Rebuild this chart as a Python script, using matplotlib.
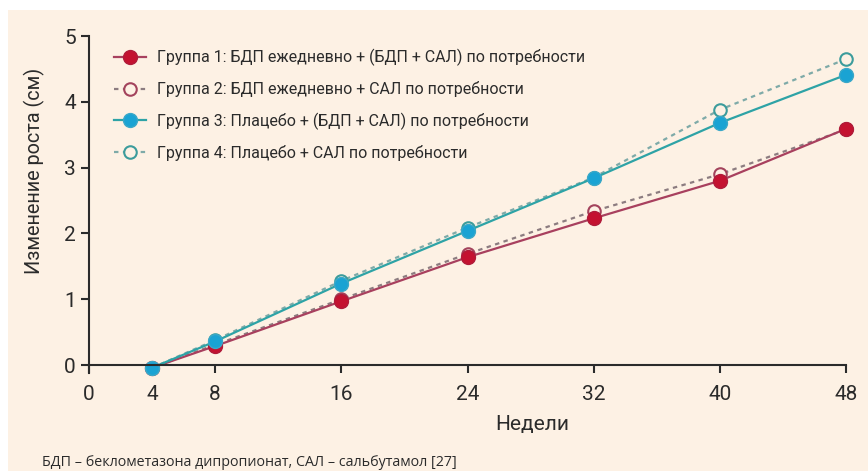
import matplotlib
matplotlib.use("Agg")
import matplotlib.pyplot as plt
from matplotlib.patches import Rectangle

plt.rcParams['font.family'] = ['Roboto', 'DejaVu Sans']

weeks = [4, 8, 16, 24, 32, 40, 48]
group1 = [-0.04, 0.29, 0.97, 1.64, 2.23, 2.80, 3.59]
group2 = [-0.04, 0.31, 1.00, 1.69, 2.34, 2.90, 3.58]
group3 = [-0.04, 0.36, 1.24, 2.04, 2.84, 3.68, 4.41]
group4 = [-0.04, 0.38, 1.28, 2.09, 2.85, 3.88, 4.65]

labels = [
    "Группа 1: БДП ежедневно + (БДП + САЛ) по потребности",
    "Группа 2: БДП ежедневно + САЛ по потребности",
    "Группа 3: Плацебо + (БДП + САЛ) по потребности",
    "Группа 4: Плацебо + САЛ по потребности",
]
xticks = [0, 4, 8, 16, 24, 32, 40, 48]
yticks = [0, 1, 2, 3, 4, 5]

bg = '#fdf1e4'
ink = '#2b2b2b'
fig = plt.figure(figsize=(8.68, 4.71), dpi=100)
fig.patch.set_facecolor('white')
fig.patches.append(Rectangle((8/868, 0), 1, 1 - 10/471, transform=fig.transFigure,
                             facecolor=bg, edgecolor='none', zorder=-10))

ax = fig.add_axes([89/868, 0.208, (846 - 89)/868, 0.7155])
ax.set_facecolor('none')

h2, = ax.plot(weeks, group2, linestyle=(0, (2, 2)), color='#8c7c80', lw=1.6,
              marker='o', ms=9, mfc=bg, mec='#a3435c', mew=1.5, clip_on=False)
h1, = ax.plot(weeks, group1, '-', color='#a8405e', lw=1.6,
              marker='o', ms=10, mfc='#c41230', mec='#b01c3a', mew=1, clip_on=False)
h4, = ax.plot(weeks, group4, linestyle=(0, (2, 2)), color='#7eaaa8', lw=1.6,
              marker='o', ms=9, mfc=bg, mec='#3c9c9c', mew=1.5, clip_on=False)
h3, = ax.plot(weeks, group3, '-', color='#2ea3a6', lw=1.6,
              marker='o', ms=10, mfc='#1aa3d3', mec='#3aa8c8', mew=1, clip_on=False)

ax.set_xlim(0, 48)
ax.set_ylim(-0.12, 5)
ax.set_xticks(xticks)
ax.set_yticks(yticks)
ax.tick_params(labelsize=15, colors=ink, width=1.5, length=6)
ax.tick_params(axis='x', pad=8)
for s in ['top', 'right']:
    ax.spines[s].set_visible(False)
ax.spines['bottom'].set_position(('data', 0))
for s in ['left', 'bottom']:
    ax.spines[s].set_linewidth(1.5)
    ax.spines[s].set_color(ink)

ax.set_ylabel('Изменение роста (см)', fontsize=14.3, color=ink)
ax.yaxis.set_label_coords(-0.058, 0.60)
ax.set_xlabel('Недели', fontsize=15, color=ink)
ax.xaxis.set_label_coords(0.585, -0.125)

leg = ax.legend([h1, h2, h3, h4], labels, loc='upper left', bbox_to_anchor=(0.02, 0.99),
                frameon=False, fontsize=11.5, handlelength=2.0, handletextpad=0.7,
                labelspacing=0.95, borderaxespad=0.2)
for t in leg.get_texts():
    t.set_color(ink)

fig.text(42/868, 1 - 462/471, 'БДП – беклометазона дипропионат, САЛ – сальбутамол [27]',
         fontsize=10.3, va='center', ha='left', color=ink, family=['Open Sans', 'DejaVu Sans'])

fig.savefig('out.png', dpi=100, facecolor=fig.get_facecolor())
